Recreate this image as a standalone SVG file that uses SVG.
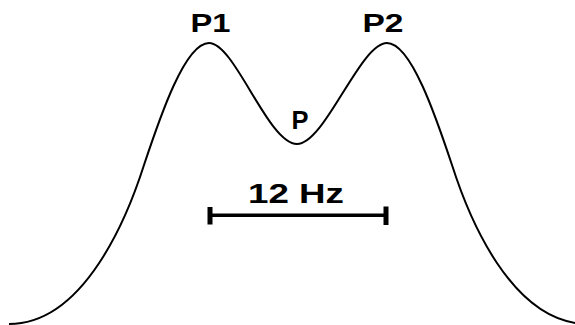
<svg xmlns="http://www.w3.org/2000/svg" width="575" height="325" viewBox="0 0 575 325">
<style>
.lbl{font-family:"Liberation Sans",Arial,sans-serif;font-weight:bold;fill:#000;text-anchor:middle}
.curve{fill:none;stroke:#000;stroke-width:2}
</style>
<rect width="575" height="325" fill="#fff"/>
<g id="spectrum">
<path class="curve" d="M9,324 C85,324 128,215 144,165 C160,117 185,43 209,43 C235,43 268,144 297,144 C325,144 360,43 387,43 C411,43 436,117 452,165 C468,215 511,324 588,324"/>
</g>
<g id="label-P1"><text class="lbl" x="210.5" y="32" font-size="26" textLength="40" lengthAdjust="spacingAndGlyphs">P1</text></g>
<g id="label-P2"><text class="lbl" x="383" y="32" font-size="26" textLength="41" lengthAdjust="spacingAndGlyphs">P2</text></g>
<g id="label-P"><text class="lbl" x="300" y="128.5" font-size="26" textLength="17" lengthAdjust="spacingAndGlyphs">P</text></g>
<g id="scale">
<line x1="210" y1="215.3" x2="386" y2="215.3" stroke="#000" stroke-width="3.5"/>
<rect x="207.5" y="207" width="5" height="17.5" fill="#000"/>
<rect x="383.5" y="206.5" width="5" height="18.5" fill="#000"/>
<text class="lbl" x="296" y="202.5" font-size="27" textLength="96" lengthAdjust="spacingAndGlyphs">12 Hz</text>
</g>
</svg>
